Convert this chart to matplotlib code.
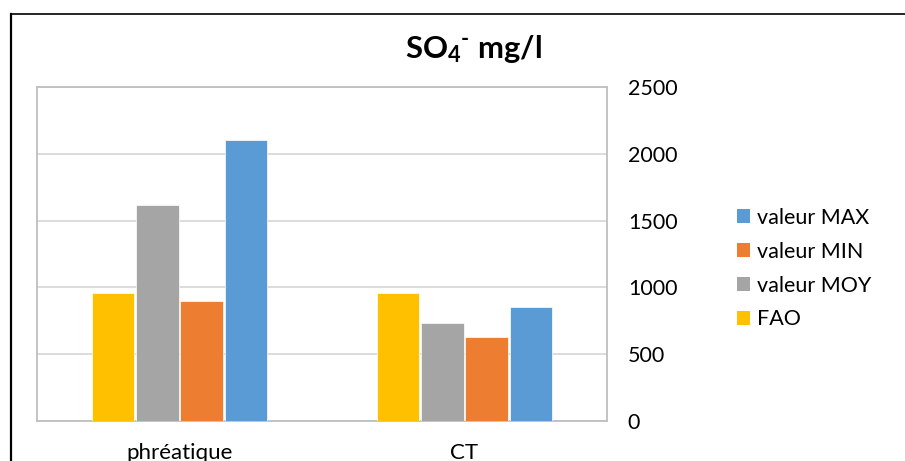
import matplotlib
matplotlib.use("Agg")
import matplotlib.pyplot as plt
import numpy as np
from matplotlib.lines import Line2D
from matplotlib.patches import Patch

plt.rcParams['font.family'] = ['Lato', 'DejaVu Sans']
plt.rcParams['mathtext.fontset'] = 'custom'
plt.rcParams['mathtext.rm'] = 'Lato:bold'
plt.rcParams['mathtext.it'] = 'Lato:bold'
plt.rcParams['mathtext.bf'] = 'Lato:bold'

# Sulfate concentrations (mg/l) per aquifer
categories = ['phréatique', 'CT']
fao = [960, 960]
val_moy = [1615, 735]
val_min = [900, 630]
val_max = [2100, 850]
y_ticks = [0, 500, 1000, 1500, 2000, 2500]

series = [
    ('FAO', fao, '#FFC000'),
    ('valeur MOY', val_moy, '#A5A5A5'),
    ('valeur MIN', val_min, '#ED7D31'),
    ('valeur MAX', val_max, '#5B9BD5'),
]

W, H = 905, 461
fig = plt.figure(figsize=(W / 100, H / 100), dpi=100)
ax = fig.add_axes([37 / W, 1 - 421 / H, 570 / W, 334 / H])

x = np.arange(len(categories))
slot = 0.155
for i, (name, vals, color) in enumerate(series):
    ax.bar(x + (i - 1.5) * slot, vals, width=slot - 0.006, color=color,
           edgecolor='white', linewidth=0.5, zorder=3, label=name)

ax.set_xlim(-0.5, 1.5)
ax.set_ylim(0, 2500)
ax.set_yticks(y_ticks)
ax.yaxis.tick_right()
ax.yaxis.grid(True, color='#D9D9D9', linewidth=1.3, zorder=0)
ax.tick_params(axis='y', length=0, pad=15, labelsize=15.5, labelcolor='#000000')
ax.set_xticks(x)
ax.set_xticklabels(categories)
ax.tick_params(axis='x', length=0, pad=16, labelsize=16)
for sp in ax.spines.values():
    sp.set_color('#BFBFBF')
    sp.set_linewidth(1.3)

# Title with chemical formula
fig.text(473 / W, 1 - 58 / H, 'SO$_\\mathrm{4}$$^\\mathrm{\u2010}$ mg/l', ha='center',
         va='baseline', fontsize=22.3, fontweight='bold')

# Legend, listed in reverse drawing order
handles = [Patch(facecolor=c, edgecolor='none') for _, _, c in series][::-1]
labels = [n for n, _, _ in series][::-1]
fig.legend(handles, labels, loc='upper left',
           bbox_to_anchor=(737 / W, 1 - 208 / H), frameon=False,
           fontsize=15.5, handlelength=0.62, handleheight=0.62,
           handletextpad=0.3, labelspacing=0.64, borderaxespad=0, borderpad=0)

# Chart frame
fig.add_artist(Line2D([11 / W, 11 / W], [0, 1 - 14.5 / H], color='black',
                      linewidth=1.6, transform=fig.transFigure))
fig.add_artist(Line2D([11 / W, 1], [1 - 14.5 / H, 1 - 14.5 / H], color='black',
                      linewidth=1.2, transform=fig.transFigure))

fig.savefig('out.png', dpi=100)
